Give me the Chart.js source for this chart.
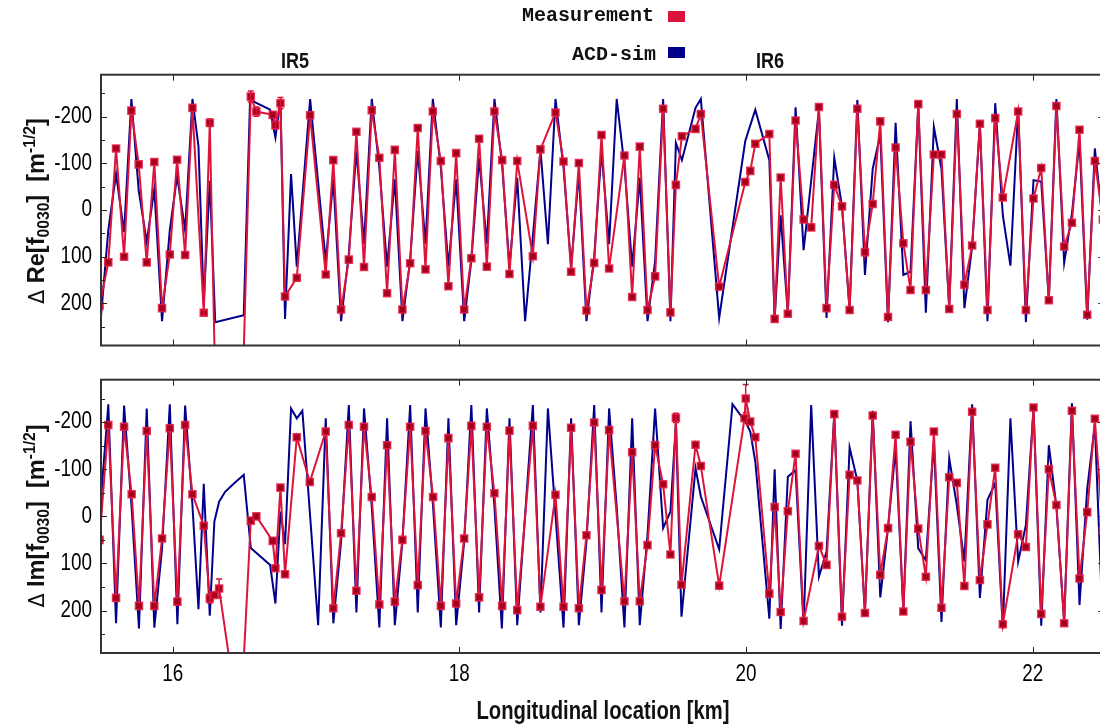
<!DOCTYPE html>
<html>
<head>
<meta charset="utf-8">
<script src="https://cdn.jsdelivr.net/npm/chart.js@4.4.1/dist/chart.umd.min.js"></script>
<style>
  body { margin: 0; width: 1100px; height: 724px; overflow: hidden; background: #fff; position: relative; }
  canvas { position: absolute; left: 0; }
  #c1 { top: 0; }
  #c2 { top: 356px; }
  .key { position: absolute; width: 300px; text-align: right; font: bold 20px 'Liberation Mono', monospace; line-height: 20px; color: #111; }
  .box { position: absolute; left: 668px; width: 17px; height: 11px; }
  .narrow { position: absolute; white-space: nowrap; font-family: 'Liberation Sans', Arial, sans-serif; font-weight: bold; color: #111; }
  .ir { font-size: 22px; transform: translate(-50%, -50%) scaleX(0.82); }
  .xtitle { font-size: 25px; transform: translate(-50%, -50%) scaleX(0.81); }
  .ytitle { left: 37px; font-size: 24px; transform: translate(-50%, -50%) rotate(-90deg) scaleX(0.98); }
  .ytitle .d { font-weight: normal; font-family: 'DejaVu Sans', sans-serif; font-size: 21px; }
  .ytitle sub, .ytitle sup { font-size: 16px; }
</style>
</head>
<body>
<canvas id="c1" width="1112" height="352"></canvas>
<canvas id="c2" width="1112" height="368"></canvas>

<div class="key" style="left:354px; top:6px;">Measurement</div>
<div class="box" style="top:11px; background:#dc143c;"></div>
<div class="key" style="left:356px; top:45px;">ACD-sim</div>
<div class="box" style="top:47px; background:#00008b;"></div>
<div class="narrow ir" style="left:295px; top:61px;">IR5</div>
<div class="narrow ir" style="left:770px; top:61px;">IR6</div>

<div class="narrow ytitle" style="top:211px;"><span class="d">Δ</span> Re[f<sub>0030</sub>]&nbsp; [m<sup>-1/2</sup>]</div>
<div class="narrow ytitle" style="top:516px;"><span class="d">Δ</span> Im[f<sub>0030</sub>]&nbsp; [m<sup>-1/2</sup>]</div>
<div class="narrow xtitle" style="left:603px; top:710px;">Longitudinal location [km]</div>

<script>
// tick values (km and m^-1/2)
const xTicks = [16, 18, 20, 22];
const yTicks = [-200, -100, 0, 100, 200];
const yMinor = [-250, -150, -50, 50, 150, 250];

// ---- top panel: Re[f0030] ----
const topMeasX = [
  15.49, 15.551, 15.605, 15.661, 15.712, 15.763, 15.819, 15.872, 15.926, 15.980,
  16.031, 16.087, 16.138, 16.217, 16.259, 16.380, 16.545, 16.584, 16.698, 16.717,
  16.752, 16.784, 16.866, 16.959, 17.068, 17.121, 17.175, 17.229, 17.282, 17.335,
  17.389, 17.442, 17.496, 17.550, 17.603, 17.657, 17.710, 17.764, 17.815, 17.871,
  17.924, 17.978, 18.034, 18.084, 18.138, 18.192, 18.245, 18.299, 18.350, 18.404,
  18.513, 18.566, 18.671, 18.727, 18.780, 18.834, 18.887, 18.941, 18.992, 19.045,
  19.152, 19.206, 19.259, 19.313, 19.366, 19.422, 19.473, 19.511, 19.553, 19.648,
  19.685, 19.813, 19.995, 20.030, 20.065, 20.163, 20.200, 20.242, 20.292, 20.346,
  20.402, 20.455, 20.509, 20.562, 20.616, 20.670, 20.723, 20.777, 20.830, 20.884,
  20.937, 20.991, 21.044, 21.098, 21.148, 21.202, 21.255, 21.311, 21.364, 21.418,
  21.471, 21.524, 21.578, 21.632, 21.685, 21.739, 21.792, 21.899, 21.953, 22.006,
  22.060, 22.113, 22.166, 22.220, 22.274, 22.327, 22.381, 22.434, 22.490
];
const topMeasY = [
  205, 112, -132, 100, -213, -98, 112, -103, 210, 95,
  -108, 96, -219, 220, -187, 1600, -243, -211, -204, -182,
  -229, 185, 145, -203, 138, -107, 213, 106, -168, 122,
  -214, -112, 178, -129, 213, 114, -176, 127, -211, -105,
  163, -122, 213, 103, -153, 121, -211, -107, 137, -105,
  99, -130, -209, -104, 132, -101, 215, 113, -161, 125,
  -117, 186, -136, 214, 142, -217, 219, -54, -158, -174,
  -206, 164, -60, -84, -142, -163, 233, -70, 222, -192,
  20, 37, -221, 210, -54, -8, 214, -217, 90, -13,
  -190, 229, -134, 71, 171, -227, 171, -119, -119, 212,
  -206, 160, 76, -185, 214, -197, -27, -211, 214, -25,
  -90, 193, -223, 78, 27, -172, 224, -105, 20
];
const topSimX = [
  15.50, 15.551, 15.605, 15.661, 15.712, 15.763, 15.819, 15.872, 15.926, 15.980,
  16.031, 16.087, 16.138, 16.180, 16.217, 16.259, 16.297, 16.496, 16.540, 16.680,
  16.717, 16.752, 16.784, 16.826, 16.866, 16.959, 17.068, 17.121, 17.175, 17.229,
  17.282, 17.335, 17.389, 17.442, 17.496, 17.550, 17.603, 17.657, 17.710, 17.764,
  17.815, 17.871, 17.924, 17.978, 18.034, 18.084, 18.138, 18.192, 18.245, 18.299,
  18.350, 18.404, 18.459, 18.513, 18.566, 18.618, 18.671, 18.727, 18.780, 18.834,
  18.887, 18.941, 18.992, 19.045, 19.098, 19.152, 19.206, 19.259, 19.313, 19.366,
  19.422, 19.473, 19.511, 19.553, 19.648, 19.685, 19.813, 19.995, 20.065, 20.163,
  20.200, 20.242, 20.292, 20.346, 20.402, 20.509, 20.562, 20.616, 20.670, 20.723,
  20.777, 20.830, 20.884, 20.937, 20.991, 21.044, 21.098, 21.148, 21.202, 21.255,
  21.311, 21.364, 21.418, 21.471, 21.524, 21.578, 21.632, 21.685, 21.739, 21.792,
  21.845, 21.899, 21.953, 22.006, 22.060, 22.113, 22.166, 22.220, 22.274, 22.327,
  22.381, 22.434, 22.480
];
const topSimY = [
  227, 43, -77, 47, -238, -42, 68, -45, 238, 43,
  -73, 43, -238, -137, 199, -63, 240, 225, -236, -215,
  -155, -238, 233, -77, 121, -238, 110, -66, 238, 93,
  -127, 72, -238, -91, 121, -66, 238, 107, -127, 72,
  -238, -91, 121, -66, 238, 107, -112, 72, -238, -95,
  121, -69, 238, 57, -130, 73, -238, -91, 121, -80,
  238, 100, -127, 73, -238, -95, 121, -69, 238, 110,
  -238, 238, -144, -107, -219, -238, 231, -148, -215, -107,
  233, 11, 222, -220, 86, -215, 231, -112, -8, 214,
  -236, 139, -88, -162, 240, -187, 139, 132, -224, 220,
  -178, -88, 210, -238, 210, 78, -184, 238, -229, 11,
  119, -219, 240, -64, -61, 193, -238, 113, 8, -148,
  235, -132, 1
];
// [location, half error] for the few visible error bars
const topErr = [[16.217, 6], [16.259, 8], [16.545, 12], [16.584, 10], [16.717, 8], [16.752, 12]];

// ---- bottom panel: Im[f0030] ----
const botMeasX = [
  15.49, 15.551, 15.605, 15.661, 15.714, 15.765, 15.819, 15.872, 15.926, 15.980,
  16.033, 16.087, 16.138, 16.217, 16.259, 16.291, 16.324, 16.470, 16.545, 16.584,
  16.698, 16.717, 16.752, 16.784, 16.866, 16.957, 17.068, 17.121, 17.175, 17.229,
  17.282, 17.335, 17.389, 17.442, 17.496, 17.550, 17.603, 17.657, 17.710, 17.764,
  17.817, 17.871, 17.924, 17.978, 18.034, 18.084, 18.138, 18.192, 18.245, 18.299,
  18.350, 18.404, 18.513, 18.566, 18.671, 18.727, 18.780, 18.834, 18.887, 18.941,
  18.992, 19.045, 19.152, 19.206, 19.259, 19.313, 19.366, 19.422, 19.473, 19.511,
  19.550, 19.648, 19.685, 19.813, 19.990, 19.998, 20.030, 20.065, 20.163, 20.200,
  20.242, 20.292, 20.346, 20.402, 20.509, 20.562, 20.616, 20.670, 20.723, 20.777,
  20.830, 20.884, 20.937, 20.991, 21.044, 21.098, 21.148, 21.202, 21.255, 21.311,
  21.364, 21.418, 21.471, 21.524, 21.578, 21.632, 21.685, 21.739, 21.792, 21.899,
  21.953, 22.006, 22.060, 22.113, 22.166, 22.220, 22.274, 22.327, 22.381, 22.434,
  22.490
];
const botMeasY = [
  50, -194, 173, -190, -47, 190, -181, 190, 47, -187,
  181, -194, -47, 20, 174, 167, 153, 460, 9, 0,
  52, 110, -61, 123, -168, -73, -180, 195, 36, -194,
  158, -190, -41, 187, -151, 181, 50, -190, 146, -181,
  -41, 190, -166, 185, 47, -192, 172, -190, -49, 190,
  -182, 199, -192, 192, -46, 192, -188, 195, 40, -199,
  156, -183, 180, -136, 180, 61, -151, -68, 81, -209,
  145, -152, -107, 147, -208, -250, -201, -168, 164, -20,
  203, -11, -133, 222, 63, 103, -217, 213, -88, -76,
  205, -214, 124, 25, -173, 202, -158, 26, 128, -180,
  194, -83, -71, 148, -222, 135, 17, -103, 229, 38,
  65, -231, 207, -100, -24, 227, -224, 132, -9, -207,
  30
];
const botSimX = [
  15.50, 15.551, 15.605, 15.661, 15.714, 15.765, 15.819, 15.872, 15.926, 15.980,
  16.033, 16.087, 16.138, 16.180, 16.217, 16.259, 16.291, 16.324, 16.366, 16.435,
  16.496, 16.545, 16.680, 16.717, 16.752, 16.784, 16.826, 16.866, 16.905, 17.015,
  17.068, 17.121, 17.175, 17.229, 17.282, 17.335, 17.389, 17.442, 17.496, 17.550,
  17.603, 17.657, 17.710, 17.764, 17.817, 17.871, 17.924, 17.978, 18.034, 18.084,
  18.138, 18.192, 18.245, 18.297, 18.350, 18.404, 18.459, 18.513, 18.566, 18.618,
  18.671, 18.727, 18.780, 18.834, 18.887, 18.941, 18.992, 19.045, 19.098, 19.152,
  19.206, 19.259, 19.313, 19.366, 19.422, 19.473, 19.511, 19.550, 19.648, 19.685,
  19.813, 19.906, 19.995, 20.030, 20.065, 20.163, 20.200, 20.242, 20.292, 20.346,
  20.402, 20.455, 20.509, 20.562, 20.616, 20.670, 20.723, 20.777, 20.830, 20.884,
  20.937, 20.991, 21.044, 21.098, 21.148, 21.202, 21.255, 21.311, 21.364, 21.418,
  21.471, 21.524, 21.578, 21.632, 21.685, 21.739, 21.792, 21.845, 21.899, 21.953,
  22.006, 22.060, 22.113, 22.166, 22.220, 22.274, 22.327, 22.381, 22.434, 22.480
];
const botSimY = [
  -38, -238, 227, -235, -17, 238, -229, 236, 68, -238,
  229, -235, -24, 197, -69, 211, 11, -31, -52, -72,
  -88, 67, 103, 185, -10, 59, -229, -208, -224, 231,
  -208, 227, 54, -236, 204, -229, -20, 236, -208, 231,
  54, -236, 204, -229, -20, 236, -208, 231, 54, -236,
  204, -229, -20, 238, -208, 231, -3, -236, 204, -229,
  -3, 236, -208, 231, 54, -236, 204, -229, -20, 236,
  -208, 231, 40, -229, 25, -10, -197, 213, -102, -42,
  70, -238, -201, -180, -116, 217, -100, 239, -84, -98,
  230, -236, 128, 75, -217, 232, -146, -76, 205, -224,
  172, 25, -144, 200, -202, 68, 93, -158, 224, -123,
  -24, 96, -238, 173, -35, -70, 239, -208, 96, 18,
  -229, 232, -151, -20, 224, -240, 188, -59, -194, 160
];
const botErr = [[16.259, 10], [16.324, 20], [19.511, 10], [19.998, 30]];

const RED = '#dc143c';
const BLUE = '#00008b';
const labelFont = "23px 'Liberation Sans', Arial, sans-serif";

function pts(xs, ys) {
  return xs.map((x, i) => ({ x: x, y: ys[i] }));
}

// draw a label squeezed horizontally, like a narrow Helvetica
function narrowText(ctx, text, x, y, align) {
  ctx.save();
  ctx.translate(x, y);
  ctx.scale(0.82, 1);
  ctx.textAlign = align;
  ctx.textBaseline = 'middle';
  ctx.fillText(text, 0, 0);
  ctx.restore();
}

// gnuplot style box with inward ticks and tick labels, drawn on top of the data
const frameTicks = {
  id: 'frameTicks',
  afterDraw(chart, args, opts) {
    const { ctx, chartArea: a, scales: { x, y } } = chart;
    ctx.save();
    ctx.strokeStyle = '#222';
    ctx.lineWidth = 1;
    ctx.beginPath();
    yTicks.concat(yMinor).forEach(v => {
      const py = Math.round(y.getPixelForValue(v)) + 0.5;
      const len = yTicks.includes(v) ? 6 : 4;
      ctx.moveTo(a.left, py); ctx.lineTo(a.left + len, py);
      ctx.moveTo(a.right, py); ctx.lineTo(a.right - len, py);
    });
    xTicks.forEach(v => {
      const px = Math.round(x.getPixelForValue(v)) + 0.5;
      ctx.moveTo(px, a.top); ctx.lineTo(px, a.top + 6);
      ctx.moveTo(px, a.bottom); ctx.lineTo(px, a.bottom - 6);
    });
    ctx.stroke();
    ctx.lineWidth = 2;
    ctx.strokeStyle = '#333';
    ctx.strokeRect(a.left, a.top, a.right - a.left, a.bottom - a.top);

    ctx.fillStyle = '#000';
    ctx.font = labelFont;
    yTicks.forEach(v => narrowText(ctx, String(v), a.left - 9, y.getPixelForValue(v), 'right'));
    if (opts.xLabels) {
      xTicks.forEach(v => narrowText(ctx, String(v), x.getPixelForValue(v), a.bottom + 22, 'center'));
    }
    ctx.restore();
  }
};

// small vertical error bars on the measurement points
const errBars = {
  id: 'errBars',
  afterDatasetsDraw(chart, args, opts) {
    const { ctx, chartArea: a, scales: { x, y } } = chart;
    const meas = chart.data.datasets[0].data;
    ctx.save();
    ctx.beginPath();
    ctx.rect(a.left, a.top, a.right - a.left, a.bottom - a.top);
    ctx.clip();
    ctx.strokeStyle = RED;
    ctx.lineWidth = 1.5;
    opts.list.forEach(([loc, e]) => {
      const p = meas.find(d => d.x === loc);
      if (!p) return;
      const px = x.getPixelForValue(p.x);
      const y1 = y.getPixelForValue(p.y - e);
      const y2 = y.getPixelForValue(p.y + e);
      ctx.beginPath();
      ctx.moveTo(px, y1); ctx.lineTo(px, y2);
      ctx.moveTo(px - 3, y1); ctx.lineTo(px + 3, y1);
      ctx.moveTo(px - 3, y2); ctx.lineTo(px + 3, y2);
      ctx.stroke();
    });
    ctx.restore();
  }
};

function datasets(mx, my, sx, sy) {
  return [
    {
      label: 'Measurement',
      data: pts(mx, my),
      borderColor: RED,
      borderWidth: 2,
      pointStyle: 'rect',
      pointRadius: 5,
      pointBackgroundColor: '#a3001b',
      pointBorderColor: 'rgba(230,30,70,0.85)',
      pointBorderWidth: 1.5,
      tension: 0
    },
    {
      label: 'ACD-sim',
      data: pts(sx, sy),
      borderColor: BLUE,
      borderWidth: 2,
      pointRadius: 0,
      tension: 0
    }
  ];
}

function options(padding, errList, xLabels) {
  return {
    responsive: false,
    animation: false,
    layout: { padding: padding },
    plugins: {
      legend: { display: false },
      tooltip: { enabled: false },
      errBars: { list: errList },
      frameTicks: { xLabels: xLabels }
    },
    scales: {
      x: { type: 'linear', min: 15.5, max: 22.5, display: false },
      y: { min: -290, max: 290, reverse: true, display: false }
    }
  };
}

new Chart(document.getElementById('c1'), {
  type: 'line',
  data: { datasets: datasets(topMeasX, topMeasY, topSimX, topSimY) },
  options: options({ top: 74.7, bottom: 4.1, left: 101, right: 7.7 }, topErr, false),
  plugins: [frameTicks, errBars]
});

new Chart(document.getElementById('c2'), {
  type: 'line',
  data: { datasets: datasets(botMeasX, botMeasY, botSimX, botSimY) },
  options: options({ top: 23.7, bottom: 71, left: 101, right: 7.7 }, botErr, true),
  plugins: [frameTicks, errBars]
});
</script>
</body>
</html>
